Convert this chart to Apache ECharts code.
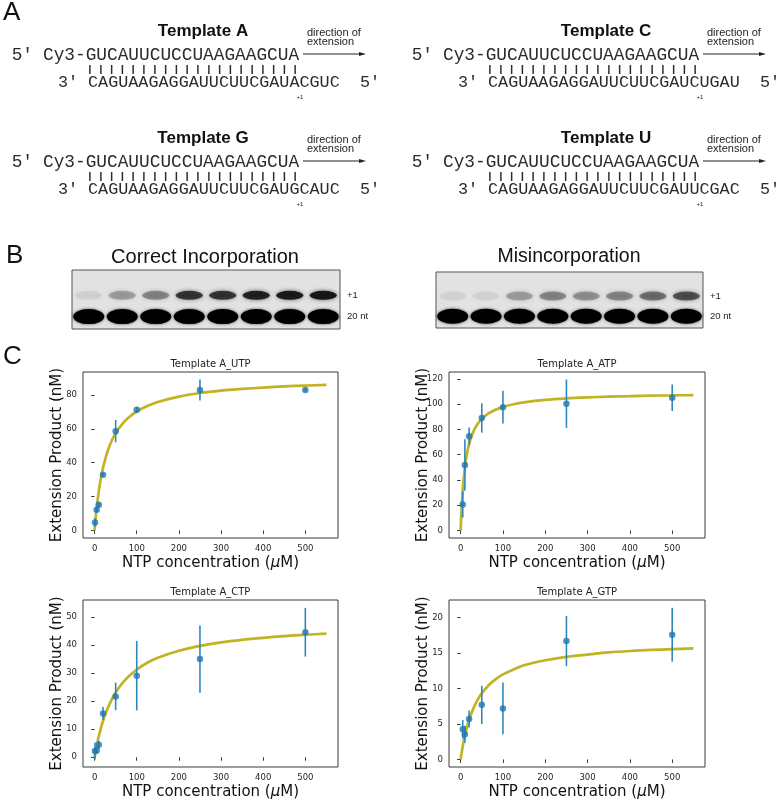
<!DOCTYPE html>
<html>
<head>
<meta charset="utf-8">
<script src="https://cdn.jsdelivr.net/npm/echarts@6/dist/echarts.min.js"></script>
<style>
  html, body { margin: 0; padding: 0; background: #fff; }
  #chart { width: 781px; height: 800px; }
</style>
</head>
<body>
<div id="chart"></div>
<script>
// ---------------- Data ----------------
// Panel A: primer / template sequences
const primerSeq = 'GUCAUUCUCCUAAGAAGCUA';
const templateNames = ['Template A', 'Template C', 'Template G', 'Template U'];
const templateSeqs = [
  'CAGUAAGAGGAUUCUUCGAUACGUC',
  'CAGUAAGAGGAUUCUUCGAUCUGAU',
  'CAGUAAGAGGAUUCUUCGAUGCAUC',
  'CAGUAAGAGGAUUCUUCGAUUCGAC'
];

// Panel B: gel lanes and relative band intensities
const gelLanes = ['1', '2', '3', '4', '5', '6', '7', '8'];
const correctPlus1 = [0.06, 0.25, 0.35, 0.75, 0.75, 0.88, 0.93, 0.95];
const correct20nt = [1, 1, 1, 1, 1, 1, 1, 1];
const misPlus1 = [0.05, 0.05, 0.25, 0.35, 0.3, 0.35, 0.45, 0.6];
const mis20nt = [1, 1, 1, 1, 1, 1, 1, 1];
const bandRows = { plus1: 0.57, nt20: 0.21 };

// Panel C: NTP concentration (uM), extension product (nM), error
const plotTitles = ['Template A_UTP', 'Template A_ATP', 'Template A_CTP', 'Template A_GTP'];
const concUTP = [1, 5, 10, 20, 50, 100, 250, 500];
const meanUTP = [4.7, 12.2, 15.1, 32.8, 58.6, 71.2, 82.9, 82.9];
const errUTP  = [2.5, 1.4, 1.6, 0.8, 6.6, 1.6, 6.2, 1.0];

const concATP = [5, 10, 20, 50, 100, 250, 500];
const meanATP = [20.5, 51.8, 74.5, 89.0, 97.6, 100.3, 105.0];
const errATP  = [10.3, 20.4, 7.0, 11.6, 13.0, 19.1, 10.5];

const concCTP = [1, 5, 10, 20, 50, 100, 250, 500];
const meanCTP = [2.2, 2.4, 4.4, 15.6, 21.7, 29.1, 35.0, 44.6];
const errCTP  = [3.0, 1.2, 1.5, 2.3, 4.9, 12.4, 12.0, 8.7];

const concGTP = [5, 10, 20, 50, 100, 250, 500];
const meanGTP = [4.25, 3.55, 5.7, 7.7, 7.2, 16.7, 17.6];
const errGTP  = [1.3, 1.2, 1.2, 2.7, 3.65, 3.55, 3.8];

// fitted curves, values
const fitX   = [0, 2, 5, 10, 15, 20, 30, 40, 50, 65, 80, 100, 125, 150, 200, 250, 300, 350, 400, 450, 500, 550];
const fitUTP = [0, 5.9, 13.4, 23.3, 30.9, 37.0, 46.1, 52.6, 57.4, 62.6, 66.5, 70.2, 73.4, 75.8, 79.0, 81.1, 82.5, 83.5, 84.3, 85.0, 85.5, 85.9];
const fitATP = [0, 15.6, 32.2, 49.8, 60.8, 68.4, 78.2, 84.2, 88.3, 92.4, 95.2, 97.8, 99.9, 101.4, 103.3, 104.5, 105.3, 105.9, 106.3, 106.7, 106.9, 107.1];
const fitCTP = [0, 1.7, 4.0, 7.5, 10.4, 12.9, 17.1, 20.4, 23.1, 26.3, 28.7, 31.3, 33.7, 35.5, 38.0, 39.75, 41.0, 41.9, 42.6, 43.2, 43.7, 44.1];
const fitGTP = [0, 0.8, 1.87, 3.36, 4.58, 5.6, 7.2, 8.4, 9.33, 10.4, 11.2, 12.0, 12.7, 13.3, 14.0, 14.48, 14.8, 15.1, 15.3, 15.45, 15.56, 15.66];

const xTicks = [0, 100, 200, 300, 400, 500];
const yTicksUTP = [0, 20, 40, 60, 80];
const yTicksATP = [0, 20, 40, 60, 80, 100, 120];
const yTicksCTP = [0, 10, 20, 30, 40, 50];
const yTicksGTP = [0, 5, 10, 15, 20];

// ---------------- Layout ----------------
const plots = [
  { conc: concUTP, mean: meanUTP, err: errUTP, fit: fitUTP, yTicks: yTicksUTP, ymin: -4.45, ymax: 93.5,  left: 83,  top: 372, w: 255, h: 166 },
  { conc: concATP, mean: meanATP, err: errATP, fit: fitATP, yTicks: yTicksATP, ymin: -5.97, ymax: 125.4, left: 449, top: 372, w: 256, h: 166 },
  { conc: concCTP, mean: meanCTP, err: errCTP, fit: fitCTP, yTicks: yTicksCTP, ymin: -3.5,  ymax: 56.1,  left: 83,  top: 600, w: 255, h: 167 },
  { conc: concGTP, mean: meanGTP, err: errGTP, fit: fitGTP, yTicks: yTicksGTP, ymin: -1.07, ymax: 22.5,  left: 449, top: 600, w: 256, h: 167 }
];

const grids = [], xAxes = [], yAxes = [], series = [], graphics = [];
const tickFont = { fontFamily: 'DejaVu Sans', fontSize: 8.5, color: '#262626' };

plots.forEach((p, i) => {
  grids.push({ left: p.left, top: p.top, width: p.w, height: p.h, show: true, borderColor: '#3a3a3a', borderWidth: 1, backgroundColor: 'transparent', containLabel: false, outerBoundsMode: 'none' });
  xAxes.push({
    type: 'value', gridIndex: i, min: -27.5, max: 577.5,
    axisLine: { show: false },
    splitLine: { show: false },
    axisTick: { show: true, inside: false, length: 3.5, lineStyle: { color: '#3a3a3a', width: 1 }, customValues: xTicks },
    axisLabel: Object.assign({ margin: 6, customValues: xTicks, formatter: v => String(v) }, tickFont),
    name: '{n|NTP concentration (}{i|μ}{n|M)}',
    nameLocation: 'middle', nameGap: 18,
    nameTextStyle: { rich: {
      n: { fontFamily: 'DejaVu Sans', fontSize: 15, color: '#111' },
      i: { fontFamily: 'DejaVu Sans', fontSize: 15, fontStyle: 'italic', color: '#111' }
    } }
  });
  yAxes.push({
    type: 'value', gridIndex: i, min: p.ymin, max: p.ymax,
    axisLine: { show: false },
    splitLine: { show: false },
    axisTick: { show: true, inside: false, length: 3.5, lineStyle: { color: '#3a3a3a', width: 1 }, customValues: p.yTicks },
    axisLabel: Object.assign({ margin: 6, customValues: p.yTicks, formatter: v => String(v) }, tickFont),
    name: 'Extension Product (nM)',
    nameLocation: 'middle', nameGap: 18.5, nameMoveOverlap: false,
    nameTextStyle: { fontFamily: 'DejaVu Sans', fontSize: 15, color: '#111' }
  });
  series.push({
    type: 'line', xAxisIndex: i, yAxisIndex: i, z: 2, silent: true,
    data: fitX.map((x, j) => [x, p.fit[j]]),
    smooth: 0.3, showSymbol: false,
    lineStyle: { color: '#c1b322', width: 2.7 }
  });
  series.push({
    type: 'custom', xAxisIndex: i, yAxisIndex: i, z: 3, silent: true,
    data: p.conc.map((x, j) => [x, p.mean[j] - p.err[j], p.mean[j] + p.err[j]]),
    encode: { x: 0, y: [1, 2] },
    renderItem: (params, api) => {
      const a = api.coord([api.value(0), api.value(1)]);
      const b = api.coord([api.value(0), api.value(2)]);
      return { type: 'line', shape: { x1: a[0], y1: a[1], x2: b[0], y2: b[1] }, style: { stroke: '#2f87bd', lineWidth: 1.6 } };
    }
  });
  series.push({
    type: 'scatter', xAxisIndex: i, yAxisIndex: i, z: 4, silent: true,
    data: p.conc.map((x, j) => [x, p.mean[j]]),
    symbol: 'circle', symbolSize: 6.5,
    itemStyle: { color: '#1f77b4' }
  });
  graphics.push({ type: 'text', x: p.left + p.w / 2, y: p.top - 8, style: { text: plotTitles[i], font: '10px "DejaVu Sans"', fill: '#222', align: 'center', verticalAlign: 'middle' } });
});

// ---------------- Gels (panel B) ----------------
const gels = [
  { plus1: correctPlus1, nt20: correct20nt, left: 72, top: 270, w: 268, h: 59 },
  { plus1: misPlus1, nt20: mis20nt, left: 436, top: 272, w: 267, h: 56 }
];
gels.forEach((g, k) => {
  const gi = grids.length;
  grids.push({ left: g.left, top: g.top, width: g.w, height: g.h, show: true, backgroundColor: '#e2e2e2', borderColor: '#555', borderWidth: 1, containLabel: false, outerBoundsMode: 'none' });
  xAxes.push({ type: 'category', gridIndex: gi, data: gelLanes, show: false });
  yAxes.push({
    type: 'value', gridIndex: gi, min: 0, max: 1, position: 'right',
    axisLine: { show: false }, axisTick: { show: false }, splitLine: { show: false },
    axisLabel: { show: true, margin: 7, customValues: [bandRows.nt20, bandRows.plus1],
      formatter: v => (v < 0.4 ? '20 nt' : '+1'),
      fontFamily: 'Liberation Sans', fontSize: 9.5, color: '#222' }
  });
  series.push({
    type: 'scatter', xAxisIndex: gi, yAxisIndex: gi, silent: true, z: 2,
    symbol: 'circle', symbolSize: [27, 9],
    data: g.plus1.map((v, j) => ({ value: [j, bandRows.plus1], itemStyle: { opacity: v } })),
    itemStyle: { color: '#111', shadowBlur: 4, shadowColor: 'rgba(0,0,0,0.6)' }
  });
  series.push({
    type: 'scatter', xAxisIndex: gi, yAxisIndex: gi, silent: true, z: 3,
    symbol: 'circle', symbolSize: [31, 15],
    data: g.nt20.map((v, j) => ({ value: [j, bandRows.nt20], itemStyle: { opacity: v } })),
    itemStyle: { color: '#000', shadowBlur: 3, shadowColor: 'rgba(0,0,0,0.7)' }
  });
});

// ---------------- Static text (panels A, B, C labels) ----------------
const mono = 'Liberation Mono';
const seqColor = '#2b2b2b';
function txt(x, y, text, font, fill, align, extra) {
  graphics.push(Object.assign({ type: 'text', x: x, y: y, style: { text: text, font: font, fill: fill || '#111', align: align || 'left', verticalAlign: 'middle' } }, extra || {}));
}
const colOff = [0, 400];
const rowOff = [0, 107];
templateNames.forEach((name, t) => {
  const ox = colOff[t % 2], oy = rowOff[Math.floor(t / 2)];
  txt(203 + ox + (t % 2) * 3, 31 + oy, name, 'bold 17px "Liberation Sans"', '#111', 'center');
  txt(307 + ox, 33 + oy, 'direction of', '11px "Liberation Sans"', '#222');
  txt(307 + ox, 42 + oy, 'extension', '11px "Liberation Sans"', '#222');
  graphics.push({ type: 'line', shape: { x1: 303 + ox, y1: 54 + oy, x2: 361 + ox, y2: 54 + oy }, style: { stroke: '#222', lineWidth: 1 } });
  graphics.push({ type: 'polygon', shape: { points: [[366 + ox, 54 + oy], [359 + ox, 52 + oy], [359 + ox, 56 + oy]] }, style: { fill: '#222' } });
  txt(11.7 + ox, 55 + oy, '5′', '17.8px "' + mono + '"', seqColor);
  txt(43 + ox, 55 + oy, 'Cy3-' + primerSeq, '17.8px "' + mono + '"', seqColor);
  txt(84.6 + ox, 70 + oy, '|'.repeat(primerSeq.length), '18px "' + mono + '"', seqColor, 'left', { scaleY: 0.5 });
  txt(58 + ox, 83 + oy, '3′', '16.8px "' + mono + '"', seqColor);
  txt(88 + ox, 83 + oy, templateSeqs[t], '16.8px "' + mono + '"', seqColor);
  txt(360 + ox, 83 + oy, '5′', '16.8px "' + mono + '"', seqColor);
  txt(300 + ox, 97 + oy, '+1', '6px "Liberation Sans"', '#222', 'center');
});
txt(3, 13, 'A', '26px "Liberation Sans"', '#111');
txt(6, 256, 'B', '26px "Liberation Sans"', '#111');
txt(3, 357, 'C', '26px "Liberation Sans"', '#111');
txt(205, 257, 'Correct Incorporation', '20px "Liberation Sans"', '#111', 'center');
txt(569, 257, 'Misincorporation', '19.5px "Liberation Sans"', '#111', 'center');

const chart = echarts.init(document.getElementById('chart'), null, { renderer: 'canvas' });
chart.setOption({
  animation: false,
  backgroundColor: '#ffffff',
  grid: grids,
  xAxis: xAxes,
  yAxis: yAxes,
  series: series,
  graphic: { elements: graphics }
});
</script>
</body>
</html>
